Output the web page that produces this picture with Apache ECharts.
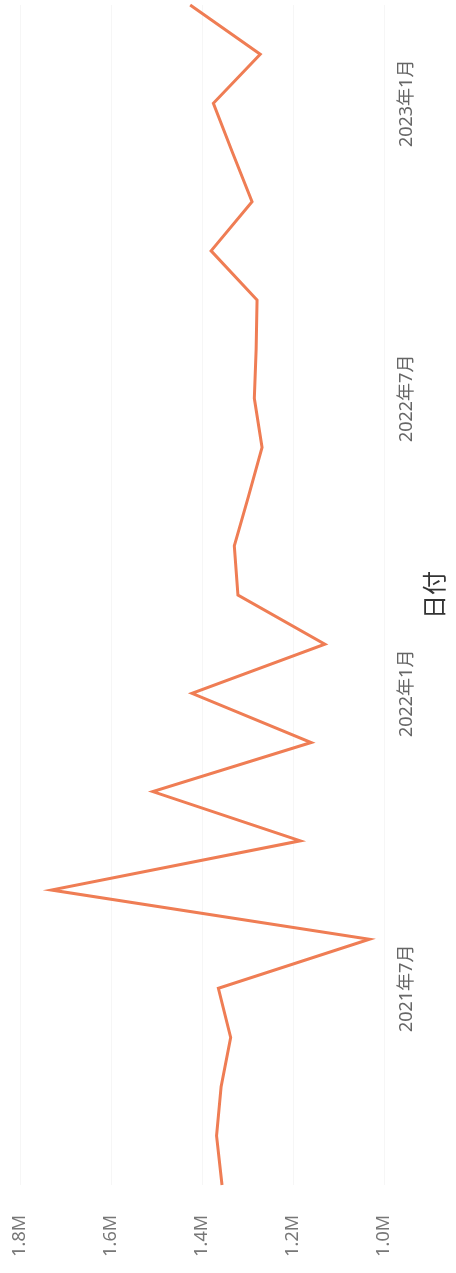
<!DOCTYPE html>
<html>
<head>
<meta charset="utf-8">
<style>
  html, body { margin: 0; padding: 0; background: #ffffff; }
  #chart { width: 456px; height: 1273px; }
</style>
<script src="https://cdn.jsdelivr.net/npm/echarts@6/dist/echarts.min.js"></script>
</head>
<body>
<div id="chart"></div>
<script>
// Monthly data (months are categories on the vertical axis)
const months = [
  '2021-03','2021-04','2021-05','2021-06','2021-07','2021-08','2021-09','2021-10','2021-11','2021-12',
  '2022-01','2022-02','2022-03','2022-04','2022-05','2022-06','2022-07','2022-08','2022-09','2022-10',
  '2022-11','2022-12','2023-01','2023-02','2023-03'
];
const sales = [
  1356000, 1368000, 1358000, 1337000, 1364000, 1032000, 1731000, 1184000, 1508000, 1160000,
  1422000, 1130000, 1321000, 1329000, 1298000, 1268000, 1285000, 1281000, 1279000, 1380000,
  1290000, 1333000, 1375000, 1272000, 1426000
];
const valueTickLabels = ['1.0M', '1.2M', '1.4M', '1.6M', '1.8M'];
const dateTickLabels = ['2021年7月', '2022年1月', '2022年7月', '2023年1月'];
const axisTitle = '日付';

function monthLabel(m) {
  const [y, mo] = m.split('-');
  return y + '年' + parseInt(mo, 10) + '月';
}

const FONT = "'Segoe UI', 'Noto Sans', 'Noto Sans CJK JP', sans-serif";
const chart = echarts.init(document.getElementById('chart'), null, { renderer: 'canvas' });

chart.setOption({
  animation: false,
  backgroundColor: '#ffffff',
  grid: { left: 20, right: 66, top: 5, bottom: 88, containLabel: false },
  xAxis: {
    type: 'value',
    inverse: true,
    position: 'bottom',
    min: 1000000,
    max: 1800000,
    interval: 200000,
    axisLine: { show: false },
    axisTick: { show: false },
    splitLine: { show: true, lineStyle: { color: '#f6f6f6', width: 1 } },
    axisLabel: {
      rotate: 90,
      margin: 30,
      color: '#777777',
      fontSize: 18,
      fontFamily: FONT,
      formatter: function (v) {
        const i = Math.round((v - 1000000) / 200000);
        return valueTickLabels[i] || '';
      }
    }
  },
  yAxis: {
    type: 'category',
    position: 'right',
    boundaryGap: false,
    data: months,
    name: axisTitle,
    nameLocation: 'middle',
    nameRotate: 90,
    nameGap: 40,
    nameTextStyle: { color: '#333333', fontSize: 24, fontFamily: FONT },
    axisLine: { show: false },
    axisTick: { show: false },
    splitLine: { show: false },
    axisLabel: {
      rotate: 90,
      margin: 14,
      color: '#666666',
      fontSize: 18,
      fontFamily: FONT,
      interval: function (idx, val) {
        return dateTickLabels.indexOf(monthLabel(val)) !== -1;
      },
      formatter: function (val) { return monthLabel(val); }
    }
  },
  series: [{
    type: 'line',
    data: sales,
    showSymbol: false,
    symbol: 'none',
    lineStyle: { color: '#EF7D54', width: 3, join: 'miter' },
    itemStyle: { color: '#EF7D54' }
  }]
});
</script>
</body>
</html>
